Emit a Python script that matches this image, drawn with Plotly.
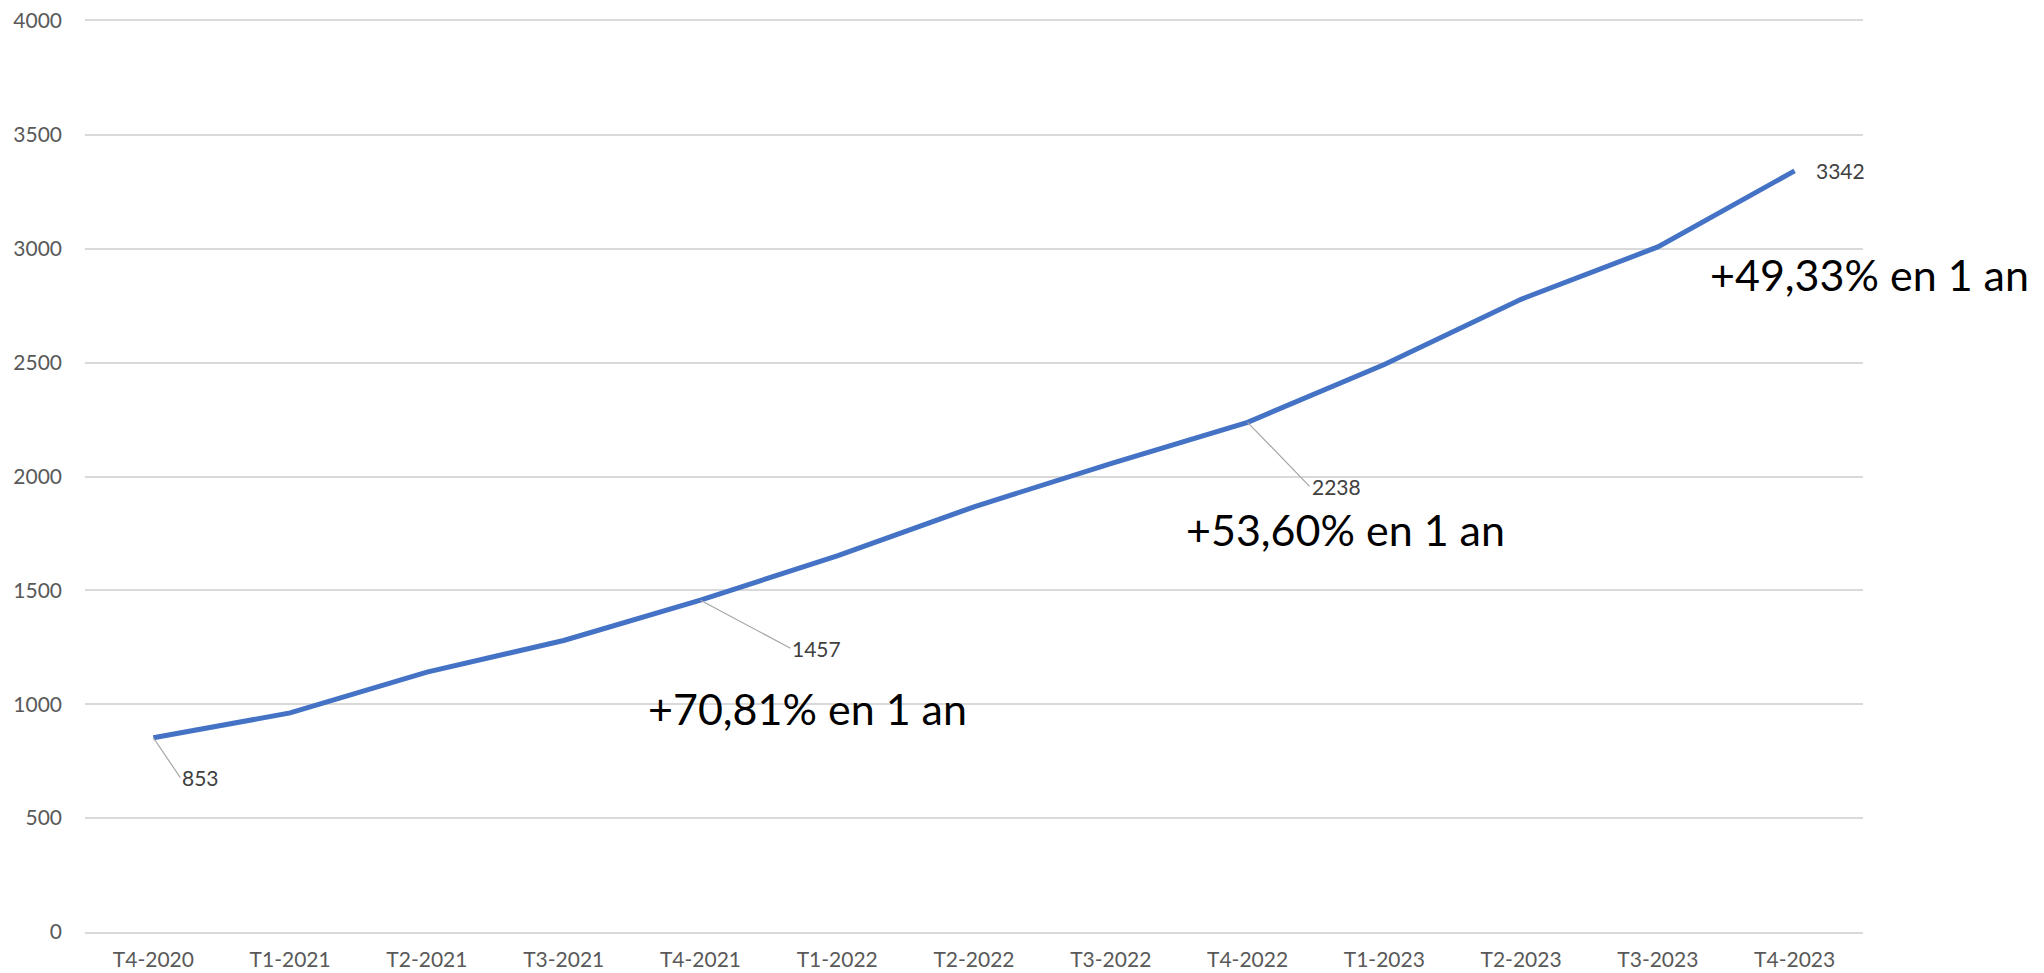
import plotly.graph_objects as go

quarters = ["T4-2020", "T1-2021", "T2-2021", "T3-2021", "T4-2021", "T1-2022", "T2-2022",
            "T3-2022", "T4-2022", "T1-2023", "T2-2023", "T3-2023", "T4-2023"]
values = [853, 962, 1141, 1280, 1457, 1652, 1867, 2057, 2238, 2492, 2778, 3008, 3342]

# labelled points and yearly growth texts
label_idx = [0, 4, 8, 12]
growth_idx = [4, 8, 12]
growth_text = ["+70,81% en 1 an", "+53,60% en 1 an", "+49,33% en 1 an"]

FONT = "Lato"
LINE = "#4472C4"
GRID = "#D9D9D9"


def main():
    fig = go.Figure()
    fig.add_trace(go.Scatter(x=quarters, y=values, mode="lines",
                             line=dict(color=LINE, width=5), hoverinfo="x+y"))

    annotations = []
    # data labels with leader lines (offsets in px)
    offsets = {0: (27, 40), 4: (90, 48), 8: (62, 64)}
    for i in label_idx:
        if i in offsets:
            ax, ay = offsets[i]
            annotations.append(dict(x=quarters[i], y=values[i], xref="x", yref="y",
                                    text=str(values[i]), showarrow=True, arrowhead=0,
                                    arrowwidth=1.2, arrowcolor="#A6A6A6", standoff=0,
                                    ax=ax, ay=ay, xanchor="left",
                                    font=dict(family=FONT, size=21, color="#404040")))
        else:
            annotations.append(dict(x=quarters[i], y=values[i], xref="x", yref="y",
                                    text=str(values[i]), showarrow=False,
                                    xanchor="left", xshift=19,
                                    font=dict(family=FONT, size=21, color="#404040")))

    shifts = [(107, -108), (98, -107), (75, -104)]
    for i, txt, (xs, ys) in zip(growth_idx, growth_text, shifts):
        annotations.append(dict(x=quarters[i], y=values[i], xref="x", yref="y",
                                text=txt, showarrow=False, xshift=xs, yshift=ys,
                                font=dict(family=FONT, size=43, color="#000000")))

    fig.update_layout(
        width=2044, height=973,
        margin=dict(l=85, r=181, t=21, b=41),
        paper_bgcolor="white", plot_bgcolor="white",
        showlegend=False,
        annotations=annotations,
        font=dict(family=FONT, color="#595959", size=21),
    )
    # x axis line mirrored gives the 0 and 4000 borders like the grid
    fig.update_xaxes(type="category", range=[-0.5, 12.5], showgrid=False,
                     showline=True, mirror=True, linecolor=GRID, linewidth=1.5,
                     ticks="", ticklabelstandoff=8, automargin=False,
                     tickfont=dict(family=FONT, size=21, color="#595959"))
    fig.update_yaxes(range=[0, 4000], dtick=500, showgrid=True, gridcolor=GRID,
                     gridwidth=1.5, zeroline=False, showline=False, ticks="",
                     ticklabelstandoff=22, automargin=False,
                     tickfont=dict(family=FONT, size=21, color="#595959"))

    # drop the default body margin so the figure fills the window exactly
    fig.write_html("out.html", config={"displayModeBar": False},
                   post_script="document.body.style.margin='0';"
                               "document.body.style.overflow='hidden';")


if __name__ == "__main__":
    main()
